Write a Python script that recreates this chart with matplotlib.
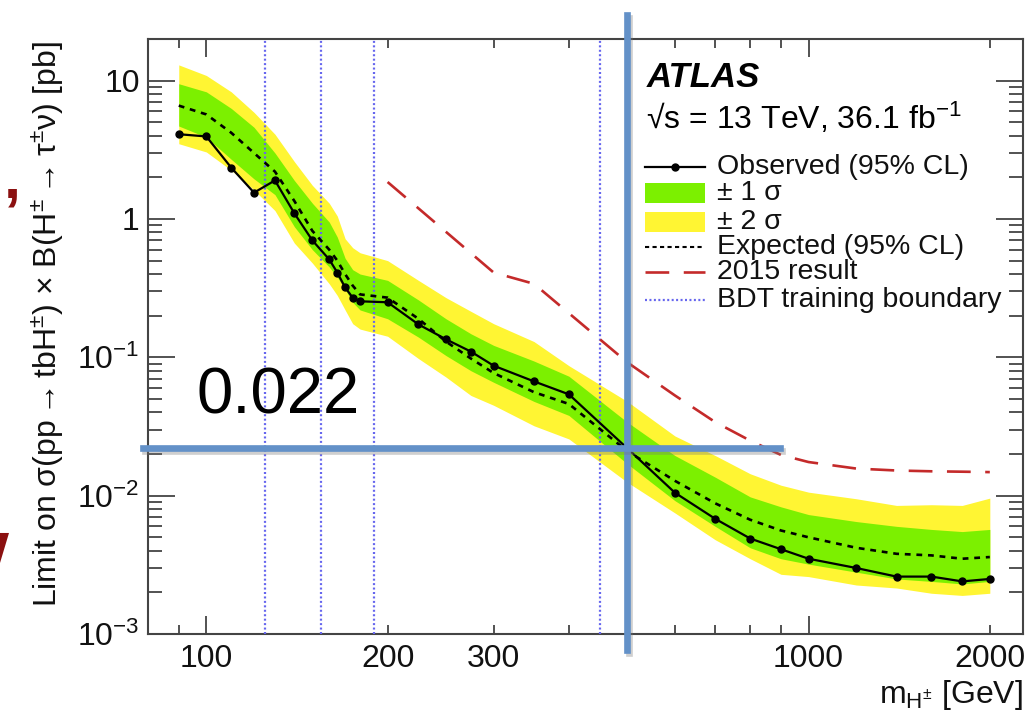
import matplotlib
matplotlib.use('Agg')
import matplotlib.pyplot as plt
import matplotlib.ticker as mticker
import matplotlib.patheffects as pe
from matplotlib.patches import Rectangle, Polygon

plt.rcParams['font.family'] = ['Liberation Sans', 'DejaVu Sans']
plt.rcParams['mathtext.fontset'] = 'custom'
plt.rcParams['mathtext.rm'] = 'Liberation Sans'
plt.rcParams['mathtext.it'] = 'Liberation Sans:italic'
plt.rcParams['mathtext.bf'] = 'Liberation Sans:bold'
plt.rcParams['mathtext.sf'] = 'Liberation Sans'

# charged Higgs mass points [GeV]
mass = [90, 100, 110, 120, 130, 140, 150, 160, 165, 170, 175, 180, 200, 225, 250,
        275, 300, 350, 400, 500, 600, 700, 800, 900, 1000, 1200, 1400, 1600, 1800, 2000]
observed = [4.1, 3.95, 2.35, 1.55, 1.9, 1.1, 0.70, 0.51, 0.41, 0.32, 0.27, 0.254, 0.25, 0.173, 0.135,
            0.110, 0.087, 0.067, 0.054, 0.022, 0.0105, 0.0068, 0.0049, 0.0041, 0.0035, 0.0030, 0.0026, 0.0026, 0.0024, 0.0025]
expected = [6.6, 5.7, 4.2, 3.0, 2.2, 1.35, 0.82, 0.60, 0.50, 0.40, 0.33, 0.285, 0.27, 0.19, 0.130,
            0.098, 0.077, 0.056, 0.046, 0.021, 0.0128, 0.0088, 0.0067, 0.0056, 0.0050, 0.0042, 0.0038, 0.0037, 0.0035, 0.0036]
sigma1_hi = [9.5, 8.3, 6.3, 4.6, 3.0, 1.9, 1.3, 0.95, 0.74, 0.52, 0.43, 0.40, 0.36, 0.26, 0.19,
             0.148, 0.122, 0.094, 0.073, 0.034, 0.0195, 0.0136, 0.0098, 0.0083, 0.0073, 0.0065, 0.0060, 0.0057, 0.0055, 0.0057]
sigma1_lo = [4.7, 3.9, 2.7, 1.95, 1.5, 0.88, 0.60, 0.45, 0.38, 0.31, 0.25, 0.22, 0.19, 0.14, 0.103,
             0.080, 0.066, 0.048, 0.038, 0.017, 0.0092, 0.0060, 0.0042, 0.0035, 0.0032, 0.0028, 0.0025, 0.0024, 0.0023, 0.0024]
sigma2_hi = [13.0, 10.9, 8.3, 5.9, 4.1, 2.6, 1.75, 1.3, 1.05, 0.72, 0.62, 0.57, 0.50, 0.36, 0.27,
             0.215, 0.175, 0.13, 0.087, 0.048, 0.027, 0.0195, 0.0144, 0.0119, 0.0106, 0.0095, 0.0085, 0.0086, 0.0085, 0.0096]
sigma2_lo = [3.5, 3.05, 2.25, 1.62, 1.15, 0.67, 0.48, 0.34, 0.28, 0.22, 0.175, 0.16, 0.142, 0.098, 0.072,
             0.053, 0.045, 0.032, 0.0257, 0.0125, 0.0075, 0.0048, 0.0035, 0.0027, 0.0026, 0.00226, 0.00215, 0.00197, 0.0019, 0.00197]

mass_2015 = [200, 300, 350, 500, 600, 700, 800, 900, 1000, 1200, 1400, 1600, 1800, 2000]
limit_2015 = [1.85, 0.41, 0.34, 0.092, 0.053, 0.034, 0.025, 0.0197, 0.0175, 0.0157, 0.0152, 0.0150, 0.0149, 0.0148]

bdt_boundaries = [125, 155, 190, 450]

cross_mass = 500
cross_limit = 0.022

x_major = [100, 1000]
x_major_labels = ['100', '1000']
x_minor = [90, 200, 300, 400, 500, 600, 700, 800, 900, 2000]
x_minor_labels = ['', '200', '300', '', '', '', '', '', '', '2000']
y_major = [1e-3, 1e-2, 1e-1, 1, 10]
y_major_labels = [r'$10^{-3}$', r'$10^{-2}$', r'$10^{-1}$', '1', '10']

green = '#7cf000'
yellow = '#fff533'
red = '#c42a2a'
bdt_blue = '#6666ee'
mark_blue = '#6391c8'
frame = '#444444'

fig = plt.figure(figsize=(10.34, 7.13), dpi=100)
ax = fig.add_axes([0.1431, 0.1108, 0.8462, 0.8345])
ax.set_xscale('log')
ax.set_yscale('log')
ax.set_xlim(80, 2270)
ax.set_ylim(1e-3, 20)

ax.fill_between(mass, sigma2_lo, sigma2_hi, color=yellow, lw=0, zorder=1)
ax.fill_between(mass, sigma1_lo, sigma1_hi, color=green, lw=0, zorder=2)
for b in bdt_boundaries:
    ax.axvline(b, color=bdt_blue, lw=1.6, ls=(0, (0.9, 1.1)), zorder=3)
ax.plot(mass_2015, limit_2015, color=red, lw=1.9, ls=(0, (9, 5.5)), zorder=4)
ax.plot(mass, expected, color='black', lw=1.9, ls=(0, (2.2, 2.2)), zorder=4)
ax.plot(mass, observed, color='black', lw=1.6, marker='o', ms=5, zorder=5)

# axes style (ROOT-like inward ticks on all sides)
for s in ax.spines.values():
    s.set_color(frame)
    s.set_linewidth(1.5)
ax.xaxis.set_major_locator(mticker.FixedLocator(x_major))
ax.xaxis.set_major_formatter(mticker.FixedFormatter(x_major_labels))
ax.xaxis.set_minor_locator(mticker.FixedLocator(x_minor))
ax.xaxis.set_minor_formatter(mticker.FixedFormatter(x_minor_labels))
ax.yaxis.set_major_locator(mticker.FixedLocator(y_major))
ax.yaxis.set_major_formatter(mticker.FixedFormatter(y_major_labels))
ax.yaxis.set_minor_locator(mticker.LogLocator(base=10, subs=range(2, 10), numticks=20))
ax.yaxis.set_minor_formatter(mticker.NullFormatter())
ax.tick_params(which='both', direction='in', top=True, right=True, color=frame, width=1.3,
               labelsize=23, labelcolor='#111111')
ax.tick_params(axis='x', which='major', length=13, pad=7)
ax.tick_params(axis='x', which='minor', length=6.5, pad=7)
ax.tick_params(axis='y', which='major', length=19.5, pad=6)
ax.tick_params(axis='y', which='minor', length=10)

ax.text(1.0, -0.116, r'm$_{\mathrm{H}^{\pm}}$ [GeV]', transform=ax.transAxes,
        ha='right', va='baseline', fontsize=23, color='#111111')
fig.text(0.046, 0.545,
         'Limit on σ(pp$\\rightarrow$tbH$^{\\pm}$) × B(H$^{\\pm}$$\\rightarrow$τ$^{\\pm}$ν) [pb]',
         rotation=90, ha='center', va='center', fontsize=23, color='#111111')

# legend block, ROOT style
ax.text(0.570, 0.936, 'ATLAS', transform=ax.transAxes, fontsize=25,
        fontweight='bold', fontstyle='italic', va='center', ha='left')
ax.text(0.569, 0.867, '√s = 13 TeV, 36.1 fb$^{-1}$', transform=ax.transAxes,
        fontsize=23, va='center', ha='left')
hx0, hx1, tx = 0.568, 0.637, 0.650
rows = [0.785, 0.741, 0.692, 0.650, 0.608, 0.561]
labels = ['Observed (95% CL)', '± 1 σ', '± 2 σ',
          'Expected (95% CL)', '2015 result', 'BDT training boundary']
for yy, lab in zip(rows, labels):
    ax.text(tx, yy, lab, transform=ax.transAxes, fontsize=20.5, va='center', ha='left', color='#111111')
ax.plot([hx0, hx1], [rows[0]] * 2, transform=ax.transAxes, color='black', lw=1.6)
ax.plot([(hx0 + hx1) / 2], [rows[0]], transform=ax.transAxes, color='black', marker='o', ms=5)
ax.add_patch(Rectangle((hx0, rows[1] - 0.017), hx1 - hx0, 0.034, transform=ax.transAxes,
                       color=green, lw=0))
ax.add_patch(Rectangle((hx0, rows[2] - 0.017), hx1 - hx0, 0.034, transform=ax.transAxes,
                       color=yellow, lw=0))
ax.plot([hx0, hx1], [rows[3]] * 2, transform=ax.transAxes, color='black', lw=1.5, ls=(0, (2, 1.6)))
ax.plot([hx0, hx1], [rows[4]] * 2, transform=ax.transAxes, color=red, lw=1.9, ls=(0, (9, 5.5)))
ax.plot([hx0, hx1], [rows[5]] * 2, transform=ax.transAxes, color=bdt_blue, lw=1.6, ls=(0, (0.9, 1.1)))

# annotation cross drawn on top of the plot
shadow = [pe.SimpleLineShadow(offset=(1.5, -2), shadow_color='#777777', alpha=0.35), pe.Normal()]
ax.axvline(cross_mass, ymin=-0.027, ymax=1.04, color=mark_blue, lw=4.8, clip_on=False,
           zorder=10, path_effects=shadow)
ax.axhline(cross_limit, xmin=-0.006, xmax=0.722, color=mark_blue, lw=4.8, clip_on=False,
           zorder=10, path_effects=shadow)
ax.text(0.056, 0.371, '0.022', transform=ax.transAxes, fontsize=47, ha='left', va='baseline',
        color='black', zorder=11)

# leftover slide fragments at the left edge
fig.text(0.012, 0.745, ',', fontsize=44, fontweight='bold', color='#8b1010', ha='center', va='center')
fig.patches.append(Polygon([(0, 0.2525), (0.0087, 0.2525), (0, 0.2104)], closed=True,
                           transform=fig.transFigure, color='#8b1010', lw=0))

fig.savefig('out.png', dpi=100)
